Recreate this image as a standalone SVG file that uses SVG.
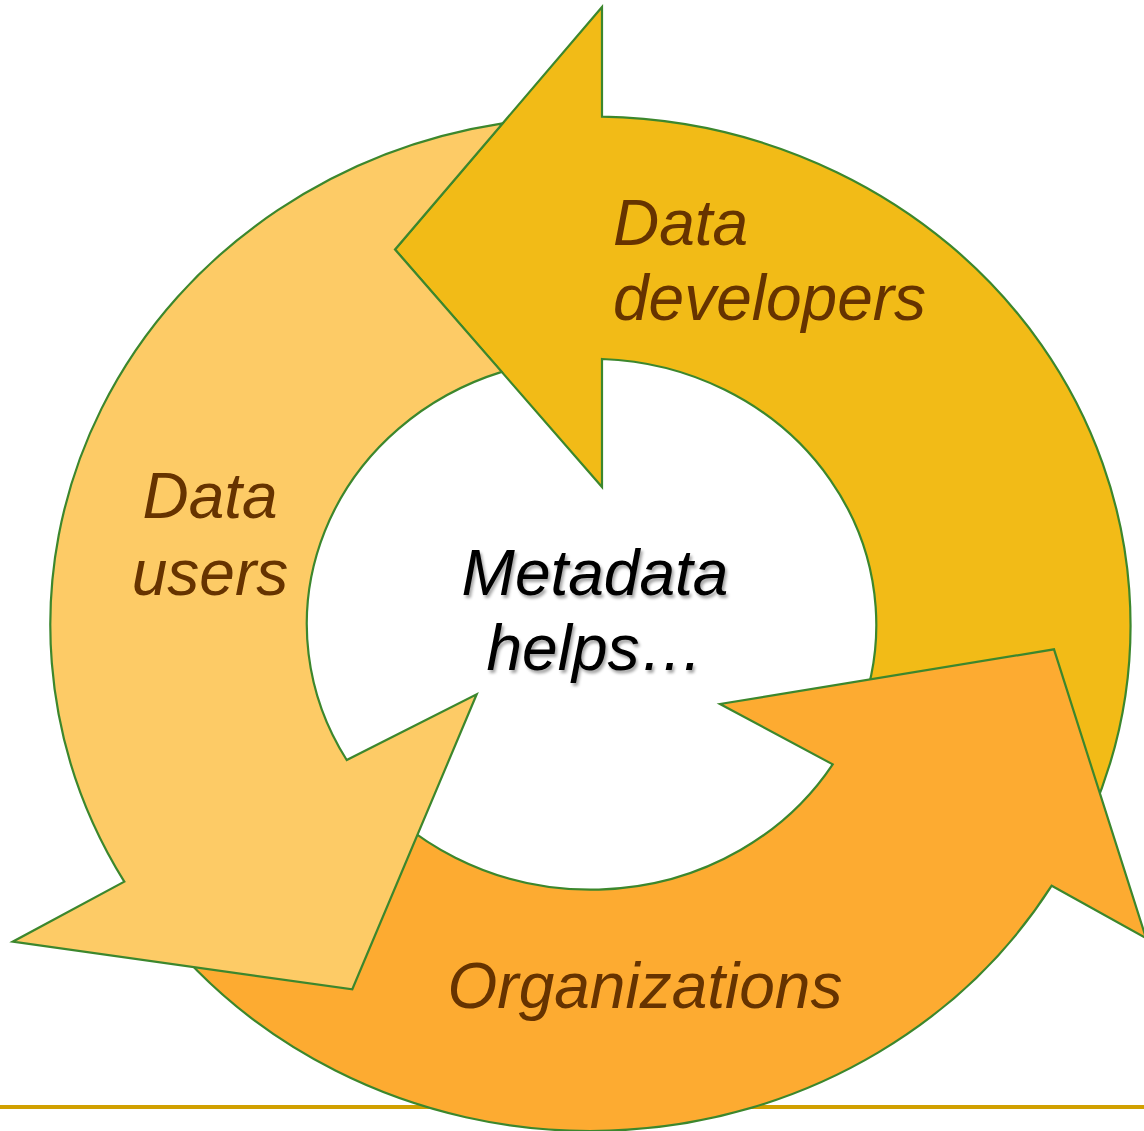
<svg xmlns="http://www.w3.org/2000/svg" width="1144" height="1131" viewBox="0 0 1144 1131">
  <defs>
    <style>
      .arrow { stroke: #3C872D; stroke-width: 2.2; stroke-linejoin: miter; }
      .lbl { font-family: "Liberation Sans", Arial, sans-serif; font-style: italic; font-size: 64px; fill: #663300; }
      .center { font-family: "Liberation Sans", Arial, sans-serif; font-style: italic; font-size: 64px; fill: #000000; }
    </style>
    <filter id="shadow" x="-10%" y="-10%" width="130%" height="140%">
      <feDropShadow dx="2" dy="3" stdDeviation="1.8" flood-color="#000" flood-opacity="0.35"/>
    </filter>
  </defs>
  <rect x="0" y="0" width="1144" height="1131" fill="#FFFFFF"/>
  <rect id="rule" x="0" y="1105" width="1144" height="4" fill="#D1A000"/>

  <g id="node-developers">
    <path class="arrow" fill="#F2BB17" d="M 602,7 L 395,249.5 L 602,487 L 602,359 A 285 266 0 0 1 855.7,724.1 L 1091.3,814.8 A 539 508 0 0 0 602,116.7 Z"/>
    <text class="lbl" x="613" y="245">Data</text>
    <text class="lbl" x="613" y="320">developers</text>
  </g>

  <g id="node-organizations">
    <path class="arrow" fill="#FDAB31" d="M 358,777.1 A 285 266 0 0 0 832.7,764.3 L 720,704 L 1054,649.3 L 1146,938 L 1051.7,885.7 A 539 508 0 0 1 150,915.9 Z"/>
    <text class="lbl" x="645" y="1008" text-anchor="middle">Organizations</text>
  </g>

  <g id="node-users">
    <path class="arrow" fill="#FDCB66" d="M 502.6,123.4 A 539 508 0 0 0 124.3,881.7 L 12.7,941.7 L 352.3,989.3 L 476.7,694.3 L 346.7,760 A 285 266 0 0 1 501.7,371.9 L 395,249.5 Z"/>
    <text class="lbl" x="210" y="518" text-anchor="middle">Data</text>
    <text class="lbl" x="210" y="595" text-anchor="middle">users</text>
  </g>

  <g id="node-center" filter="url(#shadow)">
    <text class="center" x="595" y="595" text-anchor="middle">Metadata</text>
    <text class="center" x="595" y="670" text-anchor="middle">helps…</text>
  </g>
</svg>
